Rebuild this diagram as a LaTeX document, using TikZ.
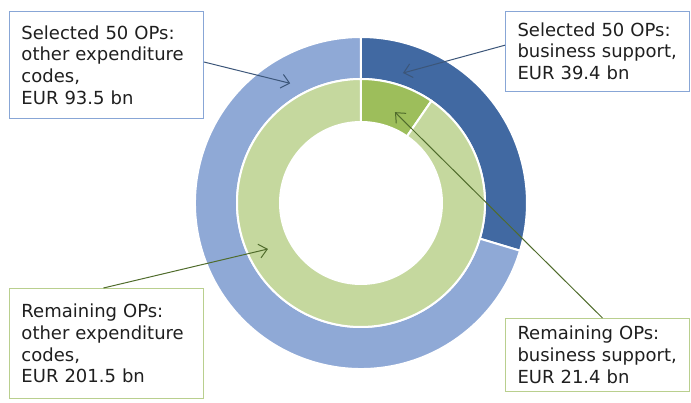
\documentclass[tikz,border=0pt]{standalone}
\usepackage{fontspec}
\setmainfont{DejaVu Sans}
\usepackage{xcolor}
\usetikzlibrary{arrows.meta}
\definecolor{selbs}{HTML}{4169A2}
\definecolor{selother}{HTML}{8FA9D6}
\definecolor{rembs}{HTML}{9DBE5B}
\definecolor{remother}{HTML}{C5D89E}
\definecolor{boxblue}{HTML}{88A6D6}
\definecolor{boxgreen}{HTML}{B9CF8E}
\definecolor{arrblue}{HTML}{3C5679}
\definecolor{arrgreen}{HTML}{506C2C}

\begin{document}
\begin{tikzpicture}[x=1pt, y=1pt,
  ring/.style={fill=#1, draw=white, line width=2pt},
  infobox/.style={draw=#1, line width=1pt, fill=white, anchor=north west, align=left, inner xsep=12pt, font=\fontsize{18}{21.7}\selectfont, text=black!88},
  callout/.style={draw=#1, line width=1pt, -{Straight Barb[length=8pt, width=14pt]}}]
  \useasboundingbox (-361,-200) rectangle (330,203);
  \fill[ring=selbs] (90:166) arc[start angle=90, end angle=-16.7, radius=166] -- (-16.7:124) arc[start angle=-16.7, end angle=90, radius=124] -- cycle;
  \fill[ring=selother] (-16.7:166) arc[start angle=-16.7, end angle=-270, radius=166] -- (-270:124) arc[start angle=-270, end angle=-16.7, radius=124] -- cycle;
  \fill[ring=rembs] (90:124) arc[start angle=90, end angle=55.4, radius=124] -- (55.4:81) arc[start angle=55.4, end angle=90, radius=81] -- cycle;
  \fill[ring=remother] (55.4:124) arc[start angle=55.4, end angle=-270, radius=124] -- (-270:81) arc[start angle=-270, end angle=55.4, radius=81] -- cycle;

  \node[infobox=boxblue, text width=170pt, minimum height=107pt] (sel-other) at (-352,192) {Selected 50 OPs:\\other expenditure\\codes,\\EUR 93.5 bn};
  \node[infobox=boxblue, text width=160pt, minimum height=80pt] (sel-bs) at (144,192.3) {Selected 50 OPs:\\business support,\\EUR 39.4 bn};
  \node[infobox=boxgreen, text width=170pt, minimum height=110pt] (rem-other) at (-352,-85) {Remaining OPs:\\other expenditure\\codes,\\EUR 201.5 bn};
  \node[infobox=boxgreen, text width=160pt, minimum height=72.7pt] (rem-bs) at (144,-115) {Remaining OPs:\\business support,\\EUR 21.4 bn};

  \coordinate (tip-sel-other) at (120.6:139);
  \coordinate (tip-sel-bs) at (72.1:136.6);
  \coordinate (tip-rem-other) at (206.3:103.8);
  \coordinate (tip-rem-bs) at (69.5:97);

  \draw[callout=arrblue] ([yshift=3pt]sel-other.east) -- (tip-sel-other);
  \draw[callout=arrblue] ([yshift=6pt]sel-bs.west) -- (tip-sel-bs);
  \draw[callout=arrgreen] ([xshift=-3pt]rem-other.north) -- (tip-rem-other);
  \draw[callout=arrgreen] ([xshift=5pt]rem-bs.north) -- (tip-rem-bs);
\end{tikzpicture}
\end{document}
